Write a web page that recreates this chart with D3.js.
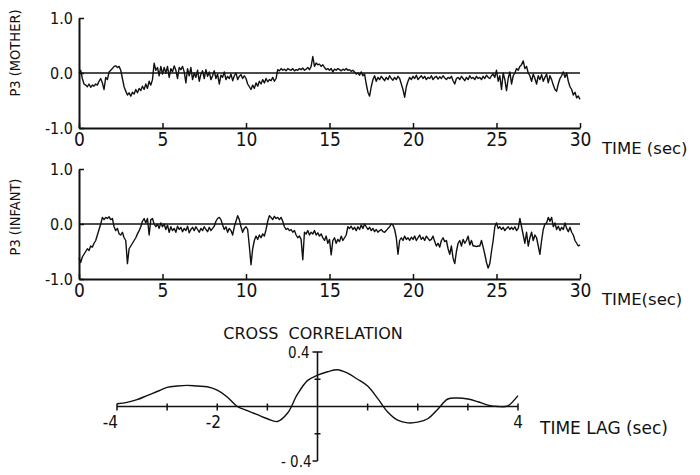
<!DOCTYPE html>
<html>
<head>
<meta charset="utf-8">
<script src="https://cdn.jsdelivr.net/npm/d3@7"></script>
<style>
  html, body { margin: 0; padding: 0; background: #fff; }
  svg { display: block; }
  text { fill: #111; }
</style>
</head>
<body>
<svg id="chart" width="700" height="475"></svg>
<script>
// ---------------- DATA ----------------
const timeStep = 0.1;          // seconds between samples (0 .. 30 s)
const timeTicks = [0, 5, 10, 15, 20, 25, 30];
const p3Ticks = [-1, 0, 1];
const p3TickLabels = ["-1.0", "0.0", "1.0"];

const motherP3 = [
  0.0, 0.05, -0.1, -0.2, -0.22, -0.25, -0.2, -0.26, -0.22, -0.24,
  -0.2, -0.22, -0.15, -0.1, -0.18, -0.3, -0.08, -0.12, 0.02, 0.05,
  0.08, 0.12, 0.13, 0.1, 0.12, 0.05, -0.1, -0.25, -0.33, -0.4,
  -0.36, -0.42, -0.35, -0.38, -0.3, -0.36, -0.28, -0.32, -0.24, -0.3,
  -0.2, -0.28, -0.15, -0.22, -0.12, 0.18, 0.05, 0.1, -0.05, 0.12,
  -0.02, 0.1, 0.0, 0.12, -0.08, 0.08, 0.02, 0.13, 0.05, -0.1,
  0.1, 0.06, 0.12, 0.02, -0.18, 0.08, -0.05, 0.1, -0.12, 0.0,
  -0.08, 0.05, -0.15, -0.02, 0.04, -0.1, 0.06, -0.06, 0.02, -0.12,
  -0.05, 0.04, -0.1, -0.02, -0.2, -0.04, -0.08, 0.02, -0.12, -0.06,
  -0.1, -0.02, -0.14, -0.05, 0.0, -0.12, -0.06, -0.03, -0.1, -0.05,
  -0.1, -0.2, -0.25, -0.3, -0.22, -0.28, -0.18, -0.24, -0.15, -0.2,
  -0.12, -0.18, -0.1, -0.16, -0.12, -0.14, -0.08, -0.15, -0.1, 0.06,
  0.04, 0.08, 0.05, 0.07, 0.04, 0.08, 0.06, 0.05, 0.08, 0.04,
  0.06, 0.05, 0.08, 0.06, 0.09, 0.05, 0.07, 0.1, 0.06, 0.12,
  0.3, 0.12, 0.18, 0.15, 0.16, 0.12, 0.15, 0.1, 0.06, 0.08,
  0.05, 0.08, 0.02, 0.07, 0.05, 0.08, 0.06, 0.04, 0.07, 0.05,
  0.08, 0.05, 0.06, 0.03, 0.05, 0.02, -0.02, 0.0, -0.04, 0.02,
  -0.05, -0.02, -0.2, -0.35, -0.42, -0.25, -0.12, -0.05, -0.15, -0.08,
  -0.12, -0.06, -0.1, -0.14, -0.08, -0.12, -0.05, -0.1, -0.13, -0.08,
  -0.12, -0.06, -0.1, -0.2, -0.3, -0.44, -0.25, -0.15, -0.08, -0.12,
  -0.06, -0.1, -0.04, -0.12, -0.08, -0.05, -0.1, -0.06, -0.12, -0.08,
  -0.1, -0.05, -0.12, -0.08, -0.06, -0.11, -0.07, -0.1, -0.05, -0.09,
  -0.12, -0.08, -0.1, -0.06, -0.14, -0.2, -0.1, -0.08, -0.12, -0.06,
  -0.1, -0.14, -0.08, -0.12, -0.05, -0.1, -0.08, -0.12, -0.06, -0.1,
  -0.08, -0.12, -0.06, -0.1, -0.04, -0.08, -0.1, -0.05, -0.02, -0.08,
  0.05, -0.15, -0.05, -0.3, 0.0, -0.12, -0.32, -0.1, 0.02, -0.2,
  -0.05, 0.0, 0.08, 0.05, 0.12, 0.15, 0.22, 0.08, 0.12, 0.0,
  -0.05, -0.15, -0.02, -0.1, -0.2, -0.05, -0.12, -0.03, -0.15, -0.08,
  -0.02, -0.18, -0.05, -0.12, -0.22, -0.3, -0.33, -0.2, -0.1, -0.05,
  0.02, -0.08, 0.0, -0.15, -0.25, -0.3, -0.4, -0.35, -0.45, -0.42,
  -0.48
];

const infantP3 = [
  -0.62, -0.7, -0.6, -0.55, -0.5, -0.45, -0.48, -0.4, -0.42, -0.35,
  -0.3, -0.2, -0.1, 0.0, 0.12, 0.08, 0.12, 0.1, 0.13, 0.08,
  0.1, -0.05, -0.12, -0.08, -0.18, -0.2, -0.15, -0.25, -0.3, -0.72,
  -0.45, -0.4, -0.35, -0.3, -0.25, -0.18, -0.12, -0.05, 0.05, 0.1,
  0.02, 0.1, -0.2, 0.08, 0.1, 0.0, -0.05, 0.0, -0.08, 0.02,
  -0.05, 0.0, -0.1, -0.02, -0.15, -0.05, -0.12, -0.08, -0.15, -0.04,
  -0.1, -0.06, -0.14, -0.08, -0.12, -0.04, -0.16, -0.1, -0.06, -0.12,
  -0.05, -0.1, -0.15, -0.08, -0.12, -0.05, -0.1, -0.14, -0.06, -0.12,
  -0.08, -0.04, 0.05, 0.1, 0.12, 0.08, -0.02, -0.1, -0.05, -0.15,
  -0.08, -0.12, -0.2, -0.05, 0.05, 0.15, 0.08, -0.05, -0.15, -0.08,
  -0.05, -0.1, -0.4, -0.74, -0.45, -0.3, -0.22, -0.28, -0.2, -0.25,
  -0.18, -0.22, -0.1, 0.05, 0.15, 0.12, 0.08, 0.14, 0.1, 0.12,
  0.08, 0.12, 0.05, -0.05, -0.1, -0.08, -0.12, -0.1, -0.15, -0.12,
  -0.2, -0.25, -0.22, -0.28, -0.65, -0.15, -0.18, -0.12, -0.2, -0.15,
  -0.18, -0.12, -0.2, -0.16, -0.22, -0.18, -0.25, -0.3, -0.22, -0.35,
  -0.28, -0.56, -0.3, -0.25, -0.35, -0.28, -0.32, -0.22, -0.3, -0.25,
  -0.2, -0.05, -0.08, -0.04, -0.1, -0.06, -0.12, -0.05, -0.1, -0.02,
  -0.08, 0.0, -0.05, -0.1, -0.06, -0.12, -0.08, -0.14, -0.1, -0.15,
  -0.12, -0.1, -0.14, -0.15, -0.12, -0.08, -0.05, 0.0, -0.02, -0.1,
  -0.25, -0.55, -0.3, -0.25, -0.3, -0.22, -0.28, -0.25, -0.3, -0.24,
  -0.28, -0.22, -0.3, -0.25, -0.2, -0.28, -0.24, -0.3, -0.22, -0.26,
  -0.3, -0.28, -0.22, -0.32, -0.4, -0.35, -0.42, -0.3, -0.25, -0.32,
  -0.3, -0.45, -0.55, -0.4, -0.62, -0.72, -0.5, -0.35, -0.3, -0.4,
  -0.28, -0.35, -0.3, -0.22, -0.38, -0.3, -0.4, -0.4, -0.41, -0.4,
  -0.4, -0.3, -0.42, -0.55, -0.7, -0.8, -0.72, -0.5, -0.3, -0.05,
  0.02, -0.08, -0.05, -0.1, -0.06, -0.12, -0.08, -0.05, -0.1, -0.06,
  -0.1, -0.05, -0.12, -0.08, 0.1, -0.05, -0.2, -0.35, -0.15, -0.4,
  -0.25, -0.15, -0.3, -0.2, -0.25, -0.4, -0.55, -0.3, -0.1, 0.0,
  0.02, 0.12, 0.05, 0.12, -0.05, 0.02, -0.1, -0.04, -0.12, -0.06,
  -0.1, 0.02, -0.08, -0.14, -0.06, -0.15, -0.2, -0.3, -0.35, -0.4,
  -0.38
];

const lags = [
  -4.0, -3.8, -3.6, -3.4, -3.2, -3.0, -2.8, -2.6, -2.4, -2.2,
  -2.0, -1.8, -1.6, -1.4, -1.2, -1.0, -0.8, -0.6, -0.4, -0.2,
  0.0, 0.2, 0.4, 0.6, 0.8, 1.0, 1.2, 1.4, 1.6, 1.8,
  2.0, 2.2, 2.4, 2.6, 2.8, 3.0, 3.2, 3.4, 3.6, 3.8, 4.0
];
const crossCorr = [
  0.02, 0.03, 0.05, 0.08, 0.11, 0.14, 0.15, 0.155, 0.15, 0.145,
  0.12, 0.07, 0.0, -0.03, -0.06, -0.09, -0.11, -0.05, 0.09, 0.19,
  0.23, 0.255, 0.27, 0.245, 0.2, 0.15, 0.06, -0.04, -0.1, -0.12,
  -0.115, -0.09, -0.02, 0.055, 0.062, 0.055, 0.035, 0.01, 0.0, 0.005, 0.08
];
const lagTicks = [-4, -3, -2, -1, 1, 2, 3, 4];
const lagLabels = [{v: -4, t: "-4"}, {v: -2, t: "-2"}, {v: 4, t: "4"}];
const ccTicks = [-0.4, -0.2, 0.2, 0.4];

// ---------------- DRAW ----------------
const svg = d3.select("#chart");
const ink = "#111";
const FONT = "'DejaVu Sans Condensed','DejaVu Sans',sans-serif";
const WIDE = "'DejaVu Sans',sans-serif";

function timePanel(series, top, bottom, yLabel, yLabelCenter, timeLabel) {
  const x = d3.scaleLinear().domain([0, 30]).range([79, 580]);
  const y = d3.scaleLinear().domain([-1, 1]).range([bottom, top]);
  const g = svg.append("g");

  // x axis (ticks pointing up)
  const xAxis = d3.axisBottom(x).tickValues(timeTicks).tickSizeInner(-5).tickSizeOuter(0)
    .tickPadding(5).tickFormat(d3.format("d"));
  const gx = g.append("g").attr("transform", `translate(0,${y(-1)})`).call(xAxis);
  gx.select(".domain").attr("stroke", ink).attr("stroke-width", 2);
  gx.selectAll(".tick line").attr("stroke", ink).attr("stroke-width", 1.5);
  gx.selectAll(".tick text").attr("font-size", 19).attr("fill", ink).style("font-family", FONT);

  // y axis (ticks pointing right)
  const yAxis = d3.axisLeft(y).tickValues(p3Ticks).tickSizeInner(-5).tickSizeOuter(0)
    .tickPadding(6).tickFormat((d, i) => p3TickLabels[i]);
  const gy = g.append("g").attr("transform", `translate(${x(0)},0)`).call(yAxis);
  gy.select(".domain").attr("stroke", ink).attr("stroke-width", 2);
  gy.selectAll(".tick line").attr("stroke", ink).attr("stroke-width", 1.5);
  gy.selectAll(".tick text").attr("font-size", 16).attr("fill", ink).style("font-family", FONT);

  // zero line
  g.append("line").attr("x1", x(0)).attr("x2", x(30)).attr("y1", y(0)).attr("y2", y(0))
    .attr("stroke", ink).attr("stroke-width", 1.6);

  // trace
  g.append("path").datum(series)
    .attr("d", d3.line().x((d, i) => x(i * timeStep)).y(d => y(d)))
    .attr("fill", "none").attr("stroke", ink).attr("stroke-width", 1.4)
    .attr("stroke-linejoin", "round");

  // labels
  g.append("text").attr("transform", `translate(20,${yLabelCenter}) rotate(-90)`)
    .style("font-family", FONT)
    .attr("text-anchor", "middle").attr("font-size", 14.5).text(yLabel);
  g.append("text").attr("x", 602).attr("y", bottom + 26).style("font-family", WIDE)
    .attr("font-size", 16.5).text(timeLabel);
}

timePanel(motherP3, 18, 128, "P3 (MOTHER)", 53, "TIME (sec)");
timePanel(infantP3, 169, 279, "P3 (INFANT)", 217, "TIME(sec)");

// cross correlation panel
const xc = d3.scaleLinear().domain([-4, 4]).range([117, 518]);
const yc = d3.scaleLinear().domain([-0.4, 0.4]).range([461, 352]);
const gc = svg.append("g");

gc.append("line").attr("x1", xc(-4)).attr("x2", xc(4)).attr("y1", yc(0)).attr("y2", yc(0))
  .attr("stroke", ink).attr("stroke-width", 1.6);
gc.selectAll(".lt").data(lagTicks).join("line").attr("class", "lt")
  .attr("x1", d => xc(d)).attr("x2", d => xc(d)).attr("y1", yc(0) - 3).attr("y2", yc(0) + 4)
  .attr("stroke", ink).attr("stroke-width", 1.5);
gc.append("line").attr("x1", xc(0)).attr("x2", xc(0)).attr("y1", yc(0.4)).attr("y2", yc(-0.4))
  .attr("stroke", ink).attr("stroke-width", 1.6);
gc.selectAll(".ct").data(ccTicks).join("line").attr("class", "ct")
  .attr("x1", d => xc(0) - (Math.abs(d) > 0.3 ? 5 : 3)).attr("x2", d => xc(0) + (d > 0.3 ? 5 : (d < -0.3 ? 0 : 3)))
  .attr("y1", d => yc(d)).attr("y2", d => yc(d))
  .attr("stroke", ink).attr("stroke-width", 1.5);

gc.append("path").datum(crossCorr)
  .attr("d", d3.line().x((d, i) => xc(lags[i])).y(d => yc(d)).curve(d3.curveCatmullRom))
  .attr("fill", "none").attr("stroke", ink).attr("stroke-width", 1.4);

gc.selectAll(".ll").data(lagLabels).join("text").attr("class", "ll")
  .style("font-family", FONT)
  .attr("x", d => d.v === -4 ? xc(-4) + 1 : xc(d.v) + (d.v < 0 ? -4 : 0)).attr("y", yc(0) + 21)
  .attr("text-anchor", d => d.v === -4 ? "end" : "middle")
  .attr("font-size", 17).text(d => d.t);
gc.append("text").attr("x", xc(0) - 8).attr("y", yc(0.4) + 6).attr("text-anchor", "end")
  .style("font-family", FONT).attr("font-size", 15).text("0.4");
gc.append("text").attr("x", xc(0) - 6).attr("y", yc(-0.4) + 6).attr("text-anchor", "end")
  .style("font-family", FONT).attr("font-size", 15).text("- 0.4");
gc.append("text").attr("x", 313).attr("y", 339).attr("text-anchor", "middle").style("font-family", WIDE)
  .attr("font-size", 16).attr("word-spacing", 5).text("CROSS CORRELATION");
gc.append("text").attr("x", 540).attr("y", 434).style("font-family", WIDE)
  .attr("font-size", 17).text("TIME LAG (sec)");
</script>
</body>
</html>
